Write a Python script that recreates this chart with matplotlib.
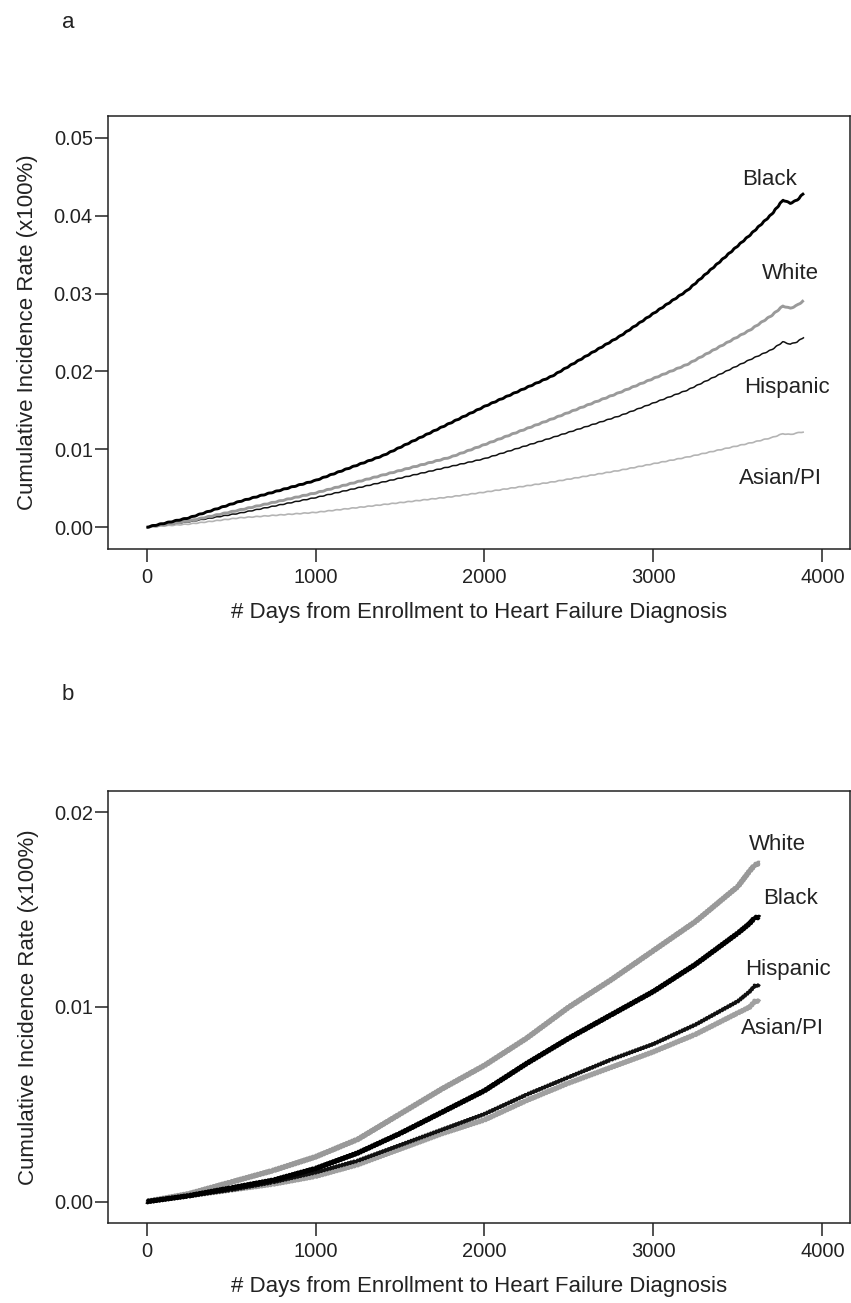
import matplotlib
matplotlib.use("Agg")
import matplotlib.pyplot as plt

plt.rcParams['font.family'] = ['Liberation Sans', 'DejaVu Sans']

# ---- Panel a data ----
days_a = [0, 250, 550, 1000, 1400, 1800, 2000, 2400, 2800, 3200, 3570, 3700, 3766, 3810, 3850, 3890]
black_a = [0, 0.0012, 0.0033, 0.0060, 0.0092, 0.0134, 0.0155, 0.0194, 0.0245, 0.0304, 0.0375, 0.0402, 0.0420, 0.0416, 0.0420, 0.0429]
white_a = [0, 0.0008, 0.0022, 0.0044, 0.0067, 0.0090, 0.0106, 0.0139, 0.0173, 0.0209, 0.0253, 0.0272, 0.0284, 0.0281, 0.0285, 0.0291]
hisp_a = [0, 0.0007, 0.0018, 0.0038, 0.0058, 0.0078, 0.0088, 0.0115, 0.0143, 0.0176, 0.0215, 0.0228, 0.0238, 0.0235, 0.0238, 0.0244]
asian_a = [0, 0.0004, 0.0012, 0.0019, 0.0029, 0.0039, 0.0045, 0.0058, 0.0073, 0.0090, 0.0108, 0.0115, 0.0120, 0.0119, 0.0121, 0.01225]

# ---- Panel b data ----
days_b = [0, 250, 500, 750, 1000, 1250, 1500, 1750, 2000, 2250, 2500, 2750, 3000, 3250, 3500, 3570, 3600, 3630]
white_b = [0, 0.0004, 0.0010, 0.0016, 0.0023, 0.0032, 0.0045, 0.0058, 0.0070, 0.0084, 0.0100, 0.0114, 0.0129, 0.0144, 0.0162, 0.0170, 0.0173, 0.0174]
black_b = [0, 0.0003, 0.0007, 0.0011, 0.0017, 0.0025, 0.0035, 0.0046, 0.0057, 0.0071, 0.0084, 0.0096, 0.0108, 0.0122, 0.0138, 0.0143, 0.0146, 0.0146]
hisp_b = [0, 0.0003, 0.0006, 0.0010, 0.0015, 0.0021, 0.0029, 0.0037, 0.0045, 0.0055, 0.0064, 0.0073, 0.0081, 0.0091, 0.0103, 0.0108, 0.0111, 0.0111]
asian_b = [0, 0.0003, 0.0006, 0.0009, 0.0013, 0.0019, 0.0027, 0.0035, 0.0042, 0.0052, 0.0061, 0.0069, 0.0077, 0.0086, 0.0097, 0.0100, 0.0103, 0.0103]

xticks = [0, 1000, 2000, 3000, 4000]
yticks_a = [0.00, 0.01, 0.02, 0.03, 0.04, 0.05]
yticks_b = [0.00, 0.01, 0.02]
xlabel = "# Days from Enrollment to Heart Failure Diagnosis"
ylabel = "Cumulative Incidence Rate (x100%)"

W, H = 851, 1303
fig = plt.figure(figsize=(W / 100, H / 100), dpi=100)

def px_axes(l, t, r, b):
    return fig.add_axes([l / W, 1 - b / H, (r - l) / W, (b - t) / H])

ax_a = px_axes(108, 116, 850, 549)
ax_b = px_axes(108, 791, 850, 1223)

TXT = '#222222'

def style(ax, yticks, ylim, fmt):
    ax.set_xlim(-228, 4163)
    ax.set_ylim(*ylim)
    ax.set_xticks(xticks)
    ax.set_yticks(yticks)
    ax.set_yticklabels([fmt % v for v in yticks])
    ax.tick_params(direction='out', length=9.4, width=1.1, labelsize=14.5, colors=TXT)
    ax.tick_params(axis='y', pad=1.5)
    ax.tick_params(axis='x', pad=4)
    for s in ax.spines.values():
        s.set_linewidth(1.1)
        s.set_color(TXT)
    ax.set_xlabel(xlabel, fontsize=16, color=TXT, labelpad=11)
    ax.set_ylabel(ylabel, fontsize=16, color=TXT, labelpad=11)

style(ax_a, yticks_a, (-0.0028, 0.0528), "%.2f")
style(ax_b, yticks_b, (-0.0011, 0.0211), "%.2f")

def line(ax, x, y, color, lw, sketch):
    ln, = ax.plot(x, y, color=color, lw=lw, solid_capstyle='butt')
    if sketch:
        ln.set_sketch_params(*sketch)
    return ln

line(ax_a, days_a, asian_a, '#b4b4b4', 1.2, (0.3, 8, 1))
line(ax_a, days_a, hisp_a, '#111111', 1.1, (0.3, 8, 1))
line(ax_a, days_a, white_a, '#9a9a9a', 2.1, (0.3, 8, 1))
line(ax_a, days_a, black_a, '#000000', 2.1, (0.3, 8, 1))

line(ax_b, days_b, asian_b, '#a0a0a0', 3.0, (0.9, 3, 1))
line(ax_b, days_b, hisp_b, '#111111', 2.2, (0.9, 3, 1))
line(ax_b, days_b, white_b, '#999999', 3.2, (0.9, 3, 1))
line(ax_b, days_b, black_b, '#000000', 3.0, (0.9, 3, 1))

labels_a = [("Black", 3689, 0.0447), ("White", 3808, 0.0326), ("Hispanic", 3790, 0.0180), ("Asian/PI", 3754, 0.0062)]
labels_b = [("White", 3731, 0.01834), ("Black", 3808, 0.01556), ("Hispanic", 3796, 0.01191), ("Asian/PI", 3766, 0.00888)]
for txt, x, y in labels_a:
    ax_a.text(x, y, txt, fontsize=16, ha='center', va='center', color=TXT)
for txt, x, y in labels_b:
    ax_b.text(x, y, txt, fontsize=16, ha='center', va='center', color=TXT)

fig.text(68 / W, 1 - 22 / H, "a", fontsize=16, ha='center', va='center', color=TXT)
fig.text(68 / W, 1 - 695 / H, "b", fontsize=16, ha='center', va='center', color=TXT)

fig.savefig("out.png", dpi=100, facecolor='white')
